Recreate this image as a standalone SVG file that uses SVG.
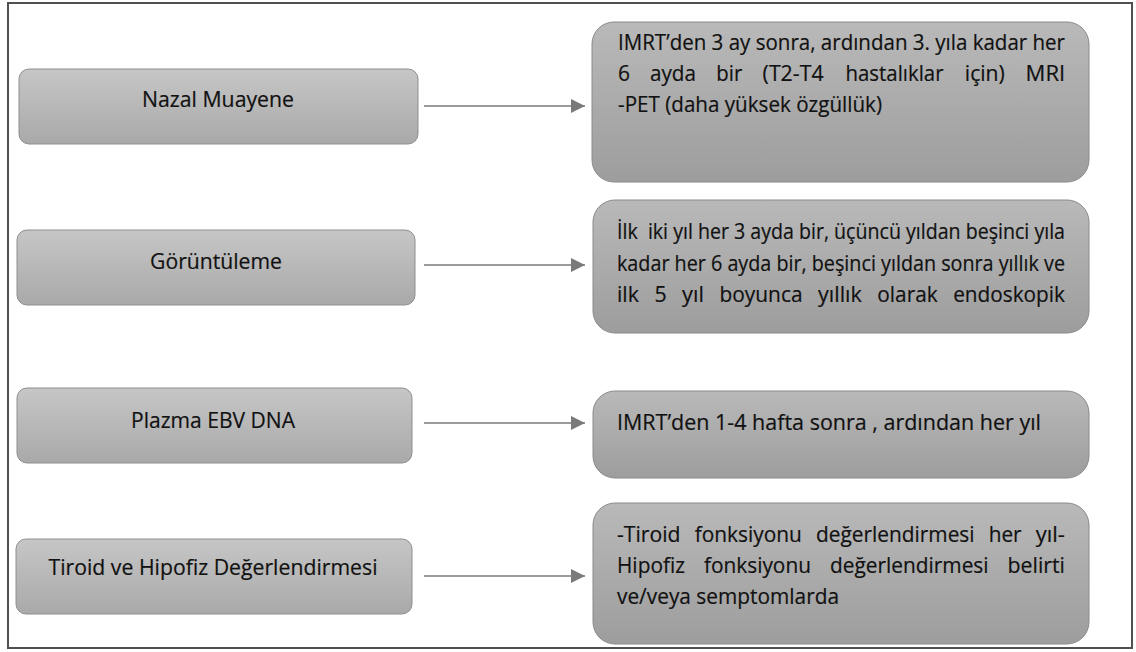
<svg xmlns="http://www.w3.org/2000/svg" width="1136" height="652" viewBox="0 0 1136 652">
<defs>
<linearGradient id="gL" x1="0" y1="0" x2="0" y2="1">
<stop offset="0" stop-color="#c6c6c6"/>
<stop offset="1" stop-color="#a9a9a9"/>
</linearGradient>
<linearGradient id="gR" x1="0" y1="0" x2="0" y2="1">
<stop offset="0" stop-color="#b9b9b9"/>
<stop offset="1" stop-color="#9d9d9d"/>
</linearGradient>
<marker id="ah" viewBox="0 0 14 14" refX="14" refY="7" markerWidth="14" markerHeight="14" markerUnits="userSpaceOnUse" orient="auto">
<path d="M0,0 L14,7 L0,14 Z" fill="#7a7a7a"/>
</marker>
</defs>
<style>
.lbox{fill:url(#gL);stroke:#8e8e8e;stroke-width:1}
.rbox{fill:url(#gR);stroke:#8a8a8a;stroke-width:1}
.lt{font-family:"Open Sans",Lato,"Liberation Sans",sans-serif;font-size:22px;fill:#111111;stroke:#111111;stroke-width:0.2;text-anchor:middle}
.rt{font-family:"Open Sans",Lato,"Liberation Sans",sans-serif;font-size:22px;fill:#111111;stroke:#111111;stroke-width:0.2}
.conn{stroke:#7a7a7a;stroke-width:1.5;fill:none}
</style>
<rect x="8" y="3" width="1124" height="645" fill="#ffffff" stroke="#505050" stroke-width="2"/>

<g id="n-nazal">
<rect class="lbox" x="19" y="69" width="399" height="75" rx="10"/>
<text class="lt" x="218" y="107" textLength="152" lengthAdjust="spacingAndGlyphs">Nazal Muayene</text>
</g>
<g id="n-goruntuleme">
<rect class="lbox" x="17" y="230" width="398" height="75" rx="10"/>
<text class="lt" x="216" y="269" textLength="132" lengthAdjust="spacingAndGlyphs">Görüntüleme</text>
</g>
<g id="n-plazma">
<rect class="lbox" x="17" y="388" width="395" height="75" rx="10"/>
<text class="lt" x="213" y="428" textLength="164" lengthAdjust="spacingAndGlyphs">Plazma EBV DNA</text>
</g>
<g id="n-tiroid">
<rect class="lbox" x="16" y="539" width="396" height="75" rx="10"/>
<text class="lt" x="213" y="575" textLength="329" lengthAdjust="spacingAndGlyphs">Tiroid ve Hipofiz Değerlendirmesi</text>
</g>

<g id="r-nazal">
<rect class="rbox" x="592" y="22" width="497" height="160" rx="22"/>
<text class="rt" x="618" y="50" textLength="447" lengthAdjust="spacingAndGlyphs">IMRT’den 3 ay sonra, ardından 3. yıla kadar her</text>
<text class="rt" x="618" y="81" textLength="12" lengthAdjust="spacingAndGlyphs">6</text>
<text class="rt" x="650" y="81" textLength="46" lengthAdjust="spacingAndGlyphs">ayda</text>
<text class="rt" x="716.3" y="81" textLength="26" lengthAdjust="spacingAndGlyphs">bir</text>
<text class="rt" x="762.6" y="81" textLength="61" lengthAdjust="spacingAndGlyphs">(T2-T4</text>
<text class="rt" x="845.5" y="81" textLength="98" lengthAdjust="spacingAndGlyphs">hastalıklar</text>
<text class="rt" x="964.8" y="81" textLength="40" lengthAdjust="spacingAndGlyphs">için)</text>
<text class="rt" x="1025.6" y="81" textLength="39.6" lengthAdjust="spacingAndGlyphs">MRI</text>
<text class="rt" x="618" y="112" textLength="264" lengthAdjust="spacingAndGlyphs">-PET (daha yüksek özgüllük)</text>
</g>
<g id="r-goruntuleme">
<rect class="rbox" x="593" y="200" width="496" height="133" rx="22"/>
<text class="rt" x="617" y="239" textLength="448" lengthAdjust="spacingAndGlyphs" xml:space="preserve">İlk  iki yıl her 3 ayda bir, üçüncü yıldan beşinci yıla</text>
<text class="rt" x="617" y="271" textLength="448" lengthAdjust="spacingAndGlyphs">kadar her 6 ayda bir, beşinci yıldan sonra yıllık ve</text>
<text class="rt" x="617" y="302" textLength="21.9" lengthAdjust="spacingAndGlyphs">ilk</text>
<text class="rt" x="654.4" y="302" textLength="12.2" lengthAdjust="spacingAndGlyphs">5</text>
<text class="rt" x="682.1" y="302" textLength="21.9" lengthAdjust="spacingAndGlyphs">yıl</text>
<text class="rt" x="719.5" y="302" textLength="83" lengthAdjust="spacingAndGlyphs">boyunca</text>
<text class="rt" x="818" y="302" textLength="43.8" lengthAdjust="spacingAndGlyphs">yıllık</text>
<text class="rt" x="877.3" y="302" textLength="60.4" lengthAdjust="spacingAndGlyphs">olarak</text>
<text class="rt" x="953.2" y="302" textLength="111.8" lengthAdjust="spacingAndGlyphs">endoskopik</text>
</g>
<g id="r-plazma">
<rect class="rbox" x="593" y="391" width="496" height="87" rx="22"/>
<text class="rt" x="617" y="430" textLength="424" lengthAdjust="spacingAndGlyphs">IMRT’den 1-4 hafta sonra , ardından her yıl</text>
</g>
<g id="r-tiroid">
<rect class="rbox" x="593" y="503" width="496" height="141" rx="22"/>
<text class="rt" x="617" y="542" textLength="63.6" lengthAdjust="spacingAndGlyphs">-Tiroid</text>
<text class="rt" x="694.7" y="542" textLength="107.1" lengthAdjust="spacingAndGlyphs">fonksiyonu</text>
<text class="rt" x="815.9" y="542" textLength="158.7" lengthAdjust="spacingAndGlyphs">değerlendirmesi</text>
<text class="rt" x="988.7" y="542" textLength="32.9" lengthAdjust="spacingAndGlyphs">her</text>
<text class="rt" x="1035.7" y="542" textLength="29.2" lengthAdjust="spacingAndGlyphs">yıl-</text>
<text class="rt" x="617" y="573" textLength="68" lengthAdjust="spacingAndGlyphs">Hipofiz</text>
<text class="rt" x="703.9" y="573" textLength="107.1" lengthAdjust="spacingAndGlyphs">fonksiyonu</text>
<text class="rt" x="829.9" y="573" textLength="158.7" lengthAdjust="spacingAndGlyphs">değerlendirmesi</text>
<text class="rt" x="1007.5" y="573" textLength="57.5" lengthAdjust="spacingAndGlyphs">belirti</text>
<text class="rt" x="617" y="604" textLength="222" lengthAdjust="spacingAndGlyphs">ve/veya semptomlarda</text>
</g>

<g id="connectors">
<line class="conn" x1="424" y1="106" x2="585" y2="106" marker-end="url(#ah)"/>
<line class="conn" x1="424" y1="265" x2="585" y2="265" marker-end="url(#ah)"/>
<line class="conn" x1="424" y1="423" x2="585" y2="423" marker-end="url(#ah)"/>
<line class="conn" x1="424" y1="576" x2="585" y2="576" marker-end="url(#ah)"/>
</g>
</svg>
